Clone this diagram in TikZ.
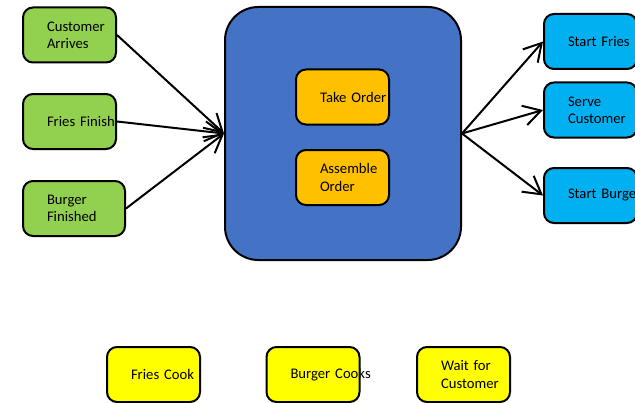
\documentclass[tikz,border=0pt]{standalone}
\usepackage{fontspec}
\setmainfont{Carlito}
\usetikzlibrary{arrows.meta}
\definecolor{grn}{HTML}{92D050}
\definecolor{blu}{HTML}{4472C4}
\definecolor{orng}{HTML}{FFC000}
\definecolor{cyn}{HTML}{00B0F0}
\definecolor{yel}{HTML}{FFFF00}
\begin{document}
\begin{tikzpicture}[x=0.75pt,y=-0.75pt,
  box/.style={draw, line width=1.5pt, rounded corners=7.5pt, minimum height=41.25pt,
    text width=33.75pt, inner xsep=18pt, inner ysep=0pt, align=left,
    font=\fontsize{11}{13}\selectfont},
  arr/.style={line width=1.5pt, -{Straight Barb[length=13pt,width=15pt]}}]
  \useasboundingbox (0,0) rectangle (635,403);
  \node[box, fill=grn] (arrive) at (69.5,35) {Customer\\Arrives};
  \node[box, fill=grn] (friesdone) at (69.5,121.5) {\mbox{Fries Finish}};
  \node[box, fill=grn, text width=40.5pt] (burgerdone) at (74,208.5) {Burger\\Finished};
  \node[draw, line width=1.5pt, fill=blu, rounded corners=25pt,
    minimum width=177pt, minimum height=189.75pt] (kitchen) at (343,133.5) {};
  \node[box, fill=orng] (take) at (342.5,97) {\mbox{Take Order}};
  \node[box, fill=orng] (assemble) at (342.5,177.5) {Assemble\\Order};
  \node[box, fill=cyn] (startfries) at (590.5,41.5) {\mbox{Start Fries}};
  \node[box, fill=cyn] (serve) at (590.5,110) {Serve\\Customer};
  \node[box, fill=cyn] (startburger) at (590.5,195.5) {\mbox{Start Burger}};
  \node[box, fill=yel] (friescook) at (153.5,374.5) {\mbox{Fries Cook}};
  \node[box, fill=yel] (burgercook) at (313,374.5) {\mbox{Burger Cooks}};
  \node[box, fill=yel] (wait) at (463.5,374.5) {\mbox{Wait for}\\Customer};
  \draw[arr] (arrive.east) -- (kitchen.west);
  \draw[arr] (friesdone.east) -- (kitchen.west);
  \draw[arr] (burgerdone.east) -- (kitchen.west);
  \draw[arr] (kitchen.east) -- (startfries.west);
  \draw[arr] (kitchen.east) -- (serve.west);
  \draw[arr] (kitchen.east) -- (startburger.west);
\end{tikzpicture}
\end{document}
